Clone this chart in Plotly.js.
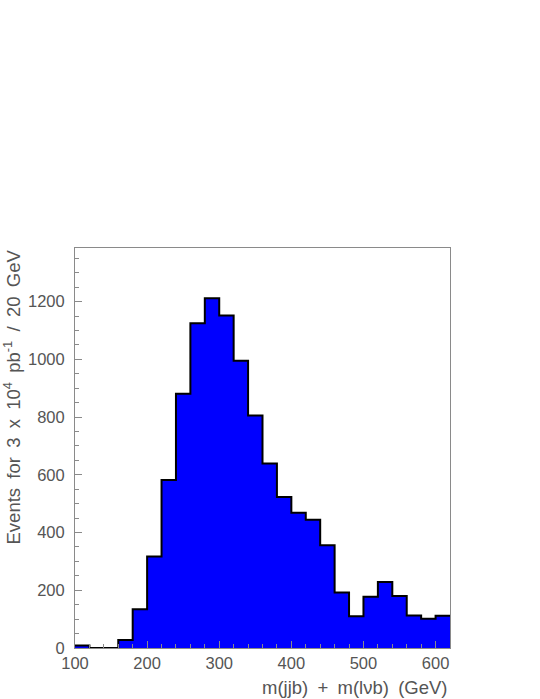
<!DOCTYPE html>
<html>
<head>
<meta charset="utf-8">
<script src="https://cdn.plot.ly/plotly-3.0.1.min.js"></script>
<style>
html,body{margin:0;padding:0;background:#fff;}
#chart{width:540px;height:699px;}
</style>
</head>
<body>
<div id="chart"></div>
<script>
// Bin lower edges (GeV), bin width 20 GeV
var binLow = [100,120,140,160,180,200,220,240,260,280,300,320,340,360,380,400,420,440,460,480,500,520,540,560,580,600];
var binWidth = 20;
// Events per bin
var counts = [9,0,0,28,134,317,582,881,1125,1212,1152,995,806,639,523,469,444,356,192,110,178,229,180,113,101,112];
var xTickVals = [100,200,300,400,500,600];
var yTickVals = [0,200,400,600,800,1000,1200];
var sp = "\u2002";
var xTitle = "m(jjb)" + sp + "+" + sp + "m(l\u03bdb)" + sp + "(GeV)";
var yTitle = "Events" + sp + "for" + sp + "3" + sp + "x" + sp + "10<sup>4</sup>" + sp + "pb<sup>-1</sup>" + sp + "/" + sp + "20" + sp + "GeV";

// step outline built from bins
var sx = binLow.slice();
sx.push(binLow[binLow.length-1] + binWidth);
var sy = counts.slice();
sy.push(counts[counts.length-1]);

var textColor = "#555555";
var axisColor = "#8a8a8a";
var fontFam = "Liberation Sans, Arial, sans-serif";

var trace = {
  x: sx, y: sy, type: "scatter", mode: "lines",
  line: {shape: "hv", color: "#000000", width: 2},
  fill: "tozeroy", fillcolor: "#0000ff",
  hoverinfo: "skip"
};

var layout = {
  width: 540, height: 699,
  margin: {l: 75, r: 90, t: 248, b: 51},
  paper_bgcolor: "#ffffff", plot_bgcolor: "#ffffff",
  showlegend: false,
  font: {family: fontFam, color: textColor, size: 14},
  xaxis: {
    range: [100, 620], tickvals: xTickVals, ticks: "inside", ticklen: 7, tickwidth: 1,
    tickcolor: axisColor, showline: true, mirror: true, linecolor: axisColor, linewidth: 1,
    showgrid: false, zeroline: false,
    minor: {dtick: 20, tick0: 100, ticks: "inside", ticklen: 4, tickcolor: axisColor, showgrid: false},
    tickfont: {family: fontFam, size: 16.5, color: textColor}
  },
  yaxis: {
    range: [0, 1386], tickvals: yTickVals, ticks: "inside", ticklen: 7, tickwidth: 1,
    tickcolor: axisColor, showline: true, mirror: true, linecolor: axisColor, linewidth: 1,
    showgrid: false, zeroline: false,
    minor: {dtick: 50, tick0: 0, ticks: "inside", ticklen: 4, tickcolor: axisColor, showgrid: false},
    tickfont: {family: fontFam, size: 16.5, color: textColor},
    ticklabelstandoff: 6
  },
  annotations: [
    {text: xTitle, xref: "paper", yref: "paper", x: 1, y: -0.0975, xanchor: "right", yanchor: "middle",
     showarrow: false, font: {family: fontFam, size: 18.5, color: textColor}},
    {text: yTitle, xref: "paper", yref: "paper", x: -0.168, y: 1, xanchor: "center", yanchor: "top",
     textangle: -90, showarrow: false, font: {family: fontFam, size: 18.5, color: textColor}}
  ]
};

Plotly.newPlot("chart", [trace], layout, {displayModeBar: false, staticPlot: true});
</script>
</body>
</html>
